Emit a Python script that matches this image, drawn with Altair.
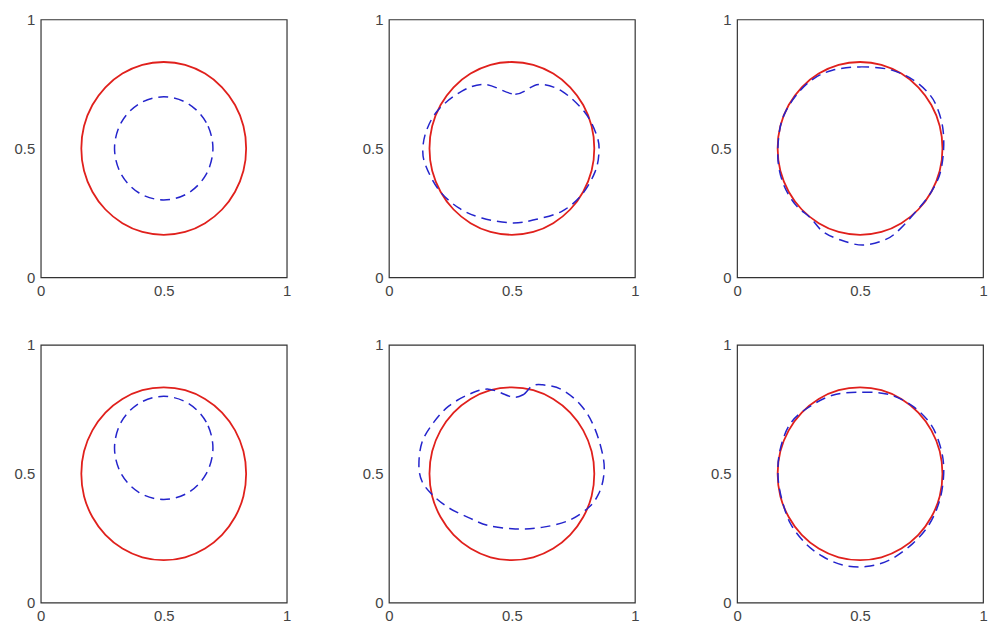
import altair as alt
import pandas as pd

# Axis ticks
tick_values = [0, 0.5, 1]

# Reference (red, solid) circle
red_x = [0.835, 0.824, 0.790, 0.737, 0.668, 0.587, 0.500, 0.413, 0.332, 0.263, 0.210, 0.176,
         0.165, 0.176, 0.210, 0.263, 0.332, 0.413, 0.500, 0.587, 0.668, 0.737, 0.790, 0.824]
red_y = [0.500, 0.587, 0.668, 0.737, 0.790, 0.824, 0.835, 0.824, 0.790, 0.737, 0.668, 0.587,
         0.500, 0.413, 0.332, 0.263, 0.210, 0.176, 0.165, 0.176, 0.210, 0.263, 0.332, 0.413]

# Blue dashed curves, one per panel
b1_x = [0.700, 0.673, 0.600, 0.500, 0.400, 0.327, 0.300, 0.327, 0.400, 0.500, 0.600, 0.673]
b1_y = [0.500, 0.600, 0.673, 0.700, 0.673, 0.600, 0.500, 0.400, 0.327, 0.300, 0.327, 0.400]

b2_x = [0.392, 0.514, 0.608, 0.703, 0.797, 0.845, 0.854, 0.838, 0.784, 0.703, 0.595, 0.500,
        0.378, 0.284, 0.203, 0.149, 0.138, 0.155, 0.203, 0.297]
b2_y = [0.748, 0.710, 0.748, 0.722, 0.639, 0.550, 0.486, 0.409, 0.320, 0.256, 0.224, 0.211,
        0.230, 0.269, 0.339, 0.435, 0.499, 0.575, 0.652, 0.722]

b3_x = [0.388, 0.497, 0.619, 0.714, 0.782, 0.816, 0.837, 0.839, 0.823, 0.782, 0.728, 0.660,
        0.605, 0.510, 0.415, 0.347, 0.299, 0.238, 0.190, 0.167, 0.170, 0.190, 0.238, 0.306]
b3_y = [0.803, 0.816, 0.806, 0.767, 0.710, 0.652, 0.575, 0.486, 0.396, 0.320, 0.256, 0.185,
        0.147, 0.125, 0.147, 0.179, 0.230, 0.281, 0.358, 0.448, 0.550, 0.627, 0.703, 0.767]

b4_x = [0.700, 0.673, 0.600, 0.500, 0.400, 0.327, 0.300, 0.327, 0.400, 0.500, 0.600, 0.673]
b4_y = [0.600, 0.700, 0.773, 0.800, 0.773, 0.700, 0.600, 0.500, 0.427, 0.400, 0.427, 0.500]

b5_x = [0.500, 0.547, 0.581, 0.622, 0.703, 0.784, 0.838, 0.872, 0.872, 0.851, 0.811, 0.730,
        0.622, 0.514, 0.405, 0.324, 0.243, 0.176, 0.135, 0.122, 0.135, 0.182, 0.243, 0.324,
        0.405]
b5_y = [0.798, 0.807, 0.839, 0.845, 0.826, 0.762, 0.673, 0.559, 0.483, 0.419, 0.368, 0.318,
        0.292, 0.286, 0.299, 0.330, 0.368, 0.419, 0.470, 0.534, 0.623, 0.699, 0.762, 0.807,
        0.828]

b6_x = [0.388, 0.510, 0.619, 0.714, 0.782, 0.816, 0.837, 0.839, 0.823, 0.782, 0.714, 0.619,
        0.524, 0.429, 0.347, 0.279, 0.218, 0.184, 0.167, 0.173, 0.211, 0.279]
b6_y = [0.804, 0.816, 0.807, 0.762, 0.699, 0.636, 0.559, 0.483, 0.394, 0.305, 0.229, 0.165,
        0.140, 0.146, 0.180, 0.229, 0.305, 0.394, 0.483, 0.584, 0.686, 0.750]

blue_curves = [(b1_x, b1_y), (b2_x, b2_y), (b3_x, b3_y),
               (b4_x, b4_y), (b5_x, b5_y), (b6_x, b6_y)]

PW, PH = 248, 260

red_df = pd.DataFrame({"x": red_x, "y": red_y, "i": range(len(red_x))})


def panel(bx, by):
    blue_df = pd.DataFrame({"x": bx, "y": by, "i": range(len(bx))})
    xenc = alt.X("x:Q", scale=alt.Scale(domain=[0, 1], nice=False, zero=False),
                 axis=alt.Axis(values=tick_values, format="~g", title=None))
    yenc = alt.Y("y:Q", scale=alt.Scale(domain=[0, 1], nice=False, zero=False),
                 axis=alt.Axis(values=tick_values, format="~g", title=None))
    red = alt.Chart(red_df).mark_line(
        color="#e0201c", strokeWidth=1.8, interpolate="cardinal-closed"
    ).encode(x=xenc, y=yenc, order="i:Q")
    blue = alt.Chart(blue_df).mark_line(
        color="#2424cc", strokeWidth=1.5, strokeDash=[10, 6], interpolate="cardinal-closed"
    ).encode(x=xenc, y=yenc, order="i:Q")
    return alt.layer(red, blue).properties(width=PW, height=PH)


panels = [panel(bx, by) for bx, by in blue_curves]

chart = alt.concat(*panels, columns=3, spacing={"row": 68, "column": 103},
                   bounds="flush").properties(
    padding={"left": 5, "top": 1, "right": 0, "bottom": 0}
).configure_view(
    stroke="#333333", strokeWidth=1.2
).configure_axis(
    grid=False, domain=False, ticks=False, tickSize=0,
    labelFont="Liberation Sans", labelFontSize=15, labelColor="#444444",
    labelFlush=False, labelOverlap=False
).configure_axisX(
    labelPadding=6
).configure_axisY(
    labelPadding=6, minExtent=27, maxExtent=27
)

chart.save("out.html", embed_options={"renderer": "svg", "actions": False})
